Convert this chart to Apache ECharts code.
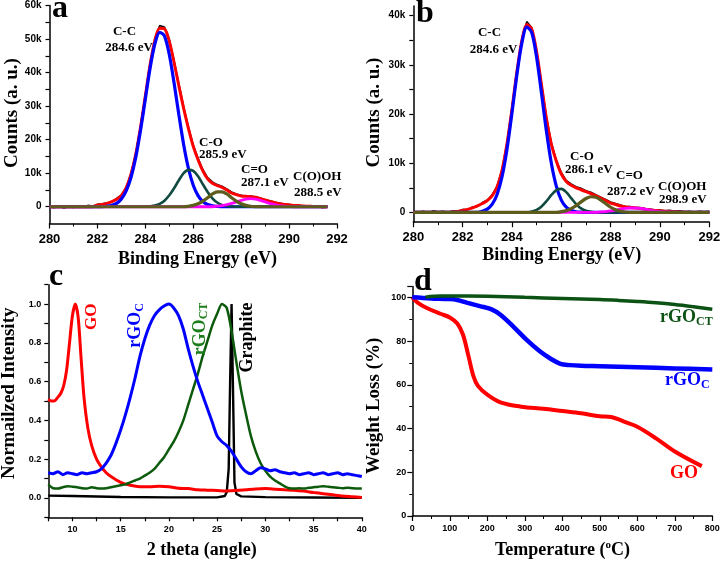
<!DOCTYPE html>
<html>
<head>
<meta charset="utf-8">
<script src="https://cdn.jsdelivr.net/npm/echarts@6/dist/echarts.min.js"></script>
<style>
html,body{margin:0;padding:0;background:#fff;}
#chart{width:721px;height:562px;}
</style>
</head>
<body>
<div id="chart"></div>
<script>
// ---------- Panel a: XPS (GO), counts in thousands ----------
const energyA = [280,280.2,280.4,280.6,280.8,281,281.2,281.4,281.6,281.8,282,282.2,282.4,282.6,282.8,283,283.2,283.4,283.6,283.8,284,284.2,284.4,284.6,284.8,285,285.2,285.4,285.6,285.8,286,286.2,286.4,286.6,286.8,287,287.2,287.4,287.6,287.8,288,288.2,288.4,288.6,288.8,289,289.2,289.4,289.6,289.8,290,290.2,290.4,290.6,290.8,291,291.2,291.4,291.6];
const rawA = [0.1,-0.3,0.2,-0.4,0.0,-0.2,0.3,-0.1,0.4,0.2,0.7,0.9,1.2,1.4,2.5,3.5,5.8,9.9,15.9,24.0,33.4,42.8,50.2,54.0,53.6,49.9,43.5,36.6,29.8,23.7,18.4,14.5,11.1,8.7,7.4,6.6,6.1,5.3,4.4,3.8,3.4,3.2,3.2,2.9,2.6,2.1,1.8,1.3,1.1,0.8,0.7,0.3,0.5,0.1,0.3,-0.1,0.2,-0.3,0.1];
const fitA = [0,0,0,0,0,0,0,0,0,0,0.5,0.7,1.0,1.5,2.2,3.3,5.6,9.6,15.6,23.7,33.0,42.4,49.6,53.2,53.0,49.3,43.0,36.0,29.3,23.3,18.0,14.0,10.7,8.3,7.0,6.3,5.8,5.0,4.1,3.6,3.2,3.1,3.0,2.8,2.4,2.0,1.6,1.2,0.9,0.7,0.5,0.4,0.3,0.2,0.15,0.1,0.05,0,0];
const ccA = [0,0,0,0,0,0,0,0,0,0,0,0,0.15,0.42,1.0,2.3,4.7,8.7,14.7,22.8,32.1,41.4,48.6,52.0,50.9,45.4,36.9,27.4,18.5,11.4,6.4,3.3,1.55,0.66,0.26,0.1,0,0,0,0,0,0,0,0,0,0,0,0,0,0,0,0,0,0,0,0,0,0,0];
const coA = [0,0,0,0,0,0,0,0,0,0,0,0,0,0,0,0,0,0,0,0,0,0.12,0.34,0.84,1.8,3.4,5.5,7.9,10.0,11.0,10.7,9.1,6.7,4.4,2.5,1.25,0.55,0.2,0.07,0,0,0,0,0,0,0,0,0,0,0,0,0,0,0,0,0,0,0,0];
const c_oA = [0,0,0,0,0,0,0,0,0,0,0,0,0,0,0,0,0,0,0,0,0,0,0,0,0,0,0,0,0,0.15,0.4,0.9,1.7,2.7,3.8,4.4,4.4,3.8,2.7,1.7,0.9,0.4,0.15,0.05,0,0,0,0,0,0,0,0,0,0,0,0,0,0,0];
const coohA = [0,0,0,0,0,0,0,0,0,0,0,0,0,0,0,0,0,0,0,0,0,0,0,0,0,0,0,0,0,0,0,0,0,0,0,0.16,0.33,0.6,1.0,1.46,1.92,2.27,2.4,2.27,1.92,1.46,1.0,0.6,0.33,0.16,0.07,0,0,0,0,0,0,0,0];

// ---------- Panel b: XPS (rGO), counts in thousands ----------
const energyB = [280,280.2,280.4,280.6,280.8,281,281.2,281.4,281.6,281.8,282,282.2,282.4,282.6,282.8,283,283.2,283.4,283.6,283.8,284,284.2,284.4,284.6,284.8,285,285.2,285.4,285.6,285.8,286,286.2,286.4,286.6,286.8,287,287.2,287.4,287.6,287.8,288,288.2,288.4,288.6,288.8,289,289.2,289.4,289.6,289.8,290,290.2,290.4,290.6,290.8,291,291.2,291.4,291.6,291.8,292];
const rawB = [0.1,0.0,0.2,-0.1,0.3,0.1,0.2,0.0,0.3,0.2,0.6,0.5,1.1,1.2,2.0,2.5,3.6,5.4,8.8,14.3,21.3,28.9,35.3,38.8,37.6,32.9,26.1,19.3,14.1,10.6,8.1,6.5,5.8,5.2,4.9,4.4,4.1,3.6,3.1,2.6,2.1,1.8,1.5,1.2,1.2,1.0,1.0,0.8,0.7,0.5,0.5,0.3,0.4,0.2,0.3,0.1,0.2,0.0,0.2,0.1,0.2];
const fitB = [0,0,0,0,0,0,0,0,0.1,0.2,0.4,0.6,0.9,1.3,1.8,2.4,3.4,5.2,8.6,14.0,21.0,28.6,34.9,38.2,37.3,32.6,25.8,19.0,13.8,10.4,7.8,6.3,5.5,5.0,4.6,4.2,3.8,3.4,2.9,2.4,1.9,1.6,1.3,1.1,1.0,0.9,0.8,0.65,0.5,0.4,0.3,0.25,0.2,0.15,0.1,0.05,0,0,0,0,0];
const ccB = [0,0,0,0,0,0,0,0,0,0,0,0,0,0,0.23,0.66,1.66,3.7,7.3,12.9,20.2,28.0,34.4,37.7,36.6,31.5,24.1,16.4,9.9,5.3,2.5,1.06,0.4,0.13,0.04,0,0,0,0,0,0,0,0,0,0,0,0,0,0,0,0,0,0,0,0,0,0,0,0,0,0];
const coB = [0,0,0,0,0,0,0,0,0,0,0,0,0,0,0,0,0,0,0,0,0,0,0,0,0.18,0.52,1.2,2.27,3.55,4.54,4.77,4.11,2.9,1.69,0.81,0.32,0.1,0.03,0,0,0,0,0,0,0,0,0,0,0,0,0,0,0,0,0,0,0,0,0,0,0];
const c_oB = [0,0,0,0,0,0,0,0,0,0,0,0,0,0,0,0,0,0,0,0,0,0,0,0,0,0,0,0,0,0,0.14,0.35,0.75,1.37,2.13,2.82,3.18,3.06,2.5,1.75,1.04,0.53,0.23,0.08,0,0,0,0,0,0,0,0,0,0,0,0,0,0,0,0,0];
const coohB = [0,0,0,0,0,0,0,0,0,0,0,0,0,0,0,0,0,0,0,0,0,0,0,0,0,0,0,0,0,0,0,0,0,0,0,0,0,0,0.09,0.17,0.29,0.46,0.64,0.79,0.89,0.89,0.79,0.64,0.46,0.29,0.17,0.09,0.04,0,0,0,0,0,0,0,0];

// ---------- Panel c: XRD ----------
const goAngle = [7.5,7.8,8.1,8.5,8.8,9.1,9.4,9.7,10.0,10.3,10.6,10.9,11.2,11.6,12.0,12.5,13.0,13.5,14.0,15,16,17,18,19,20,21,22,23,24,25,26,27,28,29,30,31,32,33,34,35,36,37,38,39,40];
const goIntensity = [0.51,0.50,0.50,0.52,0.54,0.58,0.66,0.80,0.94,1.0,0.93,0.72,0.52,0.36,0.27,0.20,0.16,0.13,0.11,0.08,0.065,0.058,0.058,0.06,0.058,0.05,0.048,0.042,0.04,0.038,0.036,0.038,0.042,0.046,0.048,0.045,0.042,0.04,0.035,0.028,0.022,0.016,0.01,0.006,0.002];
const xrdAngle = [7.5,8,8.5,9,9.5,10,10.5,11,11.5,12,12.5,13,13.5,14,14.5,15,15.5,16,16.5,17,17.5,18,18.5,19,19.5,20,20.5,21,21.5,22,22.5,23,23.5,24,24.5,25,25.5,26,26.5,27,27.5,28,28.5,29,29.5,30,30.5,31,31.5,32,32.5,33,33.5,34,34.5,35,35.5,36,36.5,37,37.5,38,38.5,39,39.5,40];
const rgocIntensity = [0.13,0.125,0.135,0.12,0.13,0.125,0.12,0.13,0.125,0.13,0.135,0.15,0.18,0.22,0.28,0.35,0.43,0.52,0.62,0.73,0.82,0.89,0.94,0.97,0.99,1.0,0.98,0.94,0.87,0.77,0.68,0.60,0.53,0.46,0.39,0.32,0.29,0.27,0.24,0.20,0.16,0.135,0.125,0.14,0.155,0.15,0.14,0.145,0.135,0.13,0.125,0.13,0.12,0.125,0.13,0.12,0.125,0.13,0.12,0.125,0.13,0.12,0.125,0.12,0.115,0.11];
const rgoctIntensity = [0.07,0.05,0.048,0.055,0.06,0.058,0.055,0.05,0.048,0.055,0.05,0.048,0.05,0.055,0.06,0.065,0.07,0.08,0.09,0.10,0.115,0.13,0.15,0.18,0.21,0.25,0.29,0.34,0.40,0.48,0.56,0.64,0.73,0.81,0.89,0.95,1.0,0.98,0.86,0.70,0.55,0.43,0.32,0.24,0.18,0.14,0.11,0.09,0.075,0.06,0.05,0.048,0.05,0.048,0.052,0.055,0.058,0.06,0.058,0.055,0.053,0.05,0.052,0.05,0.048,0.048];
const graphiteAngle = [7.5,10,15,20,25,25.8,26.0,26.2,26.35,26.5,26.65,26.8,27.0,27.5,30,35,40];
const graphiteIntensity = [0.012,0.01,0.005,0.003,0.003,0.01,0.03,0.15,0.6,1.0,0.55,0.08,0.02,0.008,0.004,0.002,0.0];

// ---------- Panel d: TGA ----------
const goTemp = [0,15,40,75,100,120,135,150,163,175,200,235,290,350,400,450,500,530,570,600,650,700,772];
const goWeight = [100,97.5,95,92.5,90.8,88,83,73,64,59.5,55.5,52,50,49,48,47,45.6,45.3,42.8,40.8,35.5,29.5,22.8];
const rgocTemp = [0,50,100,120,145,180,210,235,270,305,340,370,395,420,450,500,600,700,800];
const rgocWeight = [100,99.5,99.2,98.8,97.6,96,94.6,92,86.5,80.5,75.3,71.8,69.6,69.0,68.7,68.5,68.0,67.5,67.0];
const rgoctTemp = [35,75,150,200,300,400,500,550,600,650,700,750,800];
const rgoctWeight = [100.1,100.6,100.6,100.5,100.0,99.5,99.0,98.6,98.1,97.5,96.7,95.7,94.6];

// tick labels
const xpsALabels = [0,10,20,30,40,50,60];
const xpsATicks = [0,5,10,15,20,25,30,35,40,45,50,55,60];
const xpsBLabels = [0,10,20,30,40];
const xpsBTicks = [0,5,10,15,20,25,30,35,40];

const zip = (xs, ys) => xs.map((x, i) => [x, ys[i]]);

const RED = '#ff0000', BLUE = '#0000ff', TEAL = '#114a40', OLIVE = '#5e5c1c', MAG = '#ff00ff';
const GREEN_C = '#0c5a0c', GREEN_D = '#0b5214';

function lineSeries(idx, data, color, width, smooth, z) {
  return {type:'line', xAxisIndex: idx, yAxisIndex: idx, data, showSymbol:false, symbol:'none',
    smooth: smooth, lineStyle:{color, width}, z: z || 2, animation:false, silent:true};
}

const axisLineStyle = {show:true, onZero:false, lineStyle:{color:'#000', width:1.5}};
const tickFont = {color:'#000', fontFamily:'Liberation Sans', fontWeight:'bold'};

function xAxisCfg(idx, min, max, interval, fontSize, margin, extra) {
  return Object.assign({gridIndex: idx, type:'value', min, max, interval,
    axisLine: axisLineStyle,
    axisTick: {show:true, length:5, lineStyle:{color:'#000', width:1.2}},
    axisLabel: Object.assign({fontSize, margin, showMinLabel:true, showMaxLabel:true}, tickFont),
    splitLine:{show:false}}, extra || {});
}

const serif = '"Liberation Serif", "Times New Roman", serif';
function T(text, x, y, size, color, align, rot) {
  return {type:'text', x, y, rotation: rot || 0, silent:true, z: 100,
    style:{text, fill: color || '#000', font: 'bold ' + size + 'px ' + serif,
      textAlign: align || 'center', textVerticalAlign:'middle'}};
}
function R(parts, x, y, size, subSize, color, align, rot, sup) {
  return {type:'text', x, y, rotation: rot || 0, silent:true, z: 100,
    style:{text: parts, fill: color, textAlign: align || 'center', textVerticalAlign:'middle',
      font: 'bold ' + size + 'px ' + serif,
      rich:{
        m:{fontSize:size, fontWeight:'bold', fontFamily:serif, fill:color, lineHeight:size+2},
        s:{fontSize:subSize, fontWeight:'bold', fontFamily:serif, fill:color, verticalAlign: sup ? 'top' : 'bottom', lineHeight: subSize}
      }}};
}

const chart = echarts.init(document.getElementById('chart'), null, {renderer:'canvas'});
const option = {
  animation:false,
  backgroundColor:'#fff',
  grid:[
    {left:49.5, top:5.5, width:287.5, height:218, outerBoundsMode:'none', containLabel:false},
    {left:413.3, top:5.9, width:296, height:216.3, outerBoundsMode:'none', containLabel:false},
    {left:48.3, top:284.7, width:313.5, height:232.6, outerBoundsMode:'none', containLabel:false},
    {left:412.3, top:286.4, width:300, height:229.6, outerBoundsMode:'none', containLabel:false}
  ],
  xAxis:[
    xAxisCfg(0, 280, 292, 2, 13, 9, {minorTick:{show:true, splitNumber:2, length:3, lineStyle:{color:'#000', width:1}}}),
    xAxisCfg(1, 280, 292, 2, 13, 9, {minorTick:{show:true, splitNumber:2, length:3, lineStyle:{color:'#000', width:1}}}),
    xAxisCfg(2, 7.5, 40, 2.5, 9, 8, {axisLabel:Object.assign({fontSize:9, margin:8, showMinLabel:true, showMaxLabel:true,
      formatter: v => (Math.abs(v % 5) < 1e-6 ? String(v) : '')}, tickFont), axisTick:{show:true, length:4, lineStyle:{color:'#000', width:1.2}}}),
    xAxisCfg(3, 0, 800, 100, 9, 8, {minorTick:{show:true, splitNumber:2, length:3, lineStyle:{color:'#000', width:1}}})
  ],
  yAxis:[
    {gridIndex:0, type:'value', min:-5, max:60,
      axisLine: axisLineStyle,
      axisTick:{show:true, length:4, customValues: xpsATicks, lineStyle:{color:'#000', width:1.2}},
      axisLabel: Object.assign({fontSize:10, margin:8, customValues: xpsALabels, formatter: v => v === 0 ? '0' : v + 'k'}, tickFont),
      splitLine:{show:false}},
    {gridIndex:1, type:'value', min:-2, max:42,
      axisLine: axisLineStyle,
      axisTick:{show:true, length:4, customValues: xpsBTicks, lineStyle:{color:'#000', width:1.2}},
      axisLabel: Object.assign({fontSize:10, margin:8, customValues: xpsBLabels, formatter: v => v === 0 ? '0' : v + 'k'}, tickFont),
      splitLine:{show:false}},
    {gridIndex:2, type:'value', min:-0.1, max:1.1, interval:0.1,
      axisLine: axisLineStyle,
      axisTick:{show:true, length:4, lineStyle:{color:'#000', width:1.2}},
      axisLabel: Object.assign({fontSize:9, margin:7, showMinLabel:true, showMaxLabel:true, formatter: v => {
        const k = Math.round(v * 10); return (k >= 0 && k <= 10 && k % 2 === 0) ? (k / 10).toFixed(1) : ''; }}, tickFont),
      splitLine:{show:false}},
    {gridIndex:3, type:'value', min:0, max:105, interval:20,
      axisLine: axisLineStyle,
      axisTick:{show:true, length:5, lineStyle:{color:'#000', width:1.2}},
      minorTick:{show:true, splitNumber:2, length:3, lineStyle:{color:'#000', width:1}},
      axisLabel: Object.assign({fontSize:9, margin:6, showMaxLabel:false, formatter: v => (v <= 100 ? String(v) : '')}, tickFont),
      splitLine:{show:false}}
  ],
  series:[
    // panel a
    lineSeries(0, zip(energyA, rawA), '#111', 1.6, false, 2),
    lineSeries(0, zip(energyA, fitA), RED, 3, 0.3, 3),
    lineSeries(0, zip(energyA, ccA), BLUE, 3.2, 0.3, 4),
    lineSeries(0, zip(energyA, coA), TEAL, 2.6, 0.3, 5),
    lineSeries(0, zip(energyA, coohA), MAG, 2.8, 0.3, 6),
    lineSeries(0, zip(energyA, c_oA), OLIVE, 3.2, 0.3, 7),
    // panel b
    lineSeries(1, zip(energyB, rawB), '#111', 1.6, false, 2),
    lineSeries(1, zip(energyB, fitB), RED, 3, 0.3, 3),
    lineSeries(1, zip(energyB, ccB), BLUE, 3.2, 0.3, 4),
    lineSeries(1, zip(energyB, coB), TEAL, 2.6, 0.3, 5),
    lineSeries(1, zip(energyB, coohB), MAG, 2.8, 0.3, 6),
    lineSeries(1, zip(energyB, c_oB), OLIVE, 3.2, 0.3, 7),
    // panel c
    lineSeries(2, zip(graphiteAngle, graphiteIntensity), '#000', 2.4, false, 2),
    lineSeries(2, zip(goAngle, goIntensity), RED, 3, 0.25, 3),
    lineSeries(2, zip(xrdAngle, rgoctIntensity), GREEN_C, 2.5, 0.25, 4),
    lineSeries(2, zip(xrdAngle, rgocIntensity), BLUE, 3, 0.25, 5),
    // panel d
    lineSeries(3, zip(goTemp, goWeight), RED, 4, 0.35, 3),
    lineSeries(3, zip(rgocTemp, rgocWeight), BLUE, 4.5, 0.35, 4),
    lineSeries(3, zip(rgoctTemp, rgoctWeight), GREEN_D, 3.5, 0.35, 5)
  ],
  graphic:[
    // panel letters
    T('a', 52, 9, 32, '#000', 'left'),
    T('b', 416, 14, 32, '#000', 'left'),
    T('c', 49, 277, 32, '#000', 'left'),
    T('d', 414, 282, 32, '#000', 'left'),
    // axis titles
    T('Counts (a. u.)', 11.7, 113, 19, '#000', 'center', Math.PI / 2),
    T('Counts (a. u.)', 373.7, 112.5, 19, '#000', 'center', Math.PI / 2),
    T('Binding Energy (eV)', 197.5, 259, 18, '#000'),
    T('Binding Energy (eV)', 561.7, 255, 18, '#000'),
    T('Normailzed Intensity', 9.5, 393.3, 19, '#000', 'center', Math.PI / 2),
    T('2 theta (angle)', 201.7, 550, 18, '#000'),
    T('Weight Loss (%)', 374, 405.8, 19, '#000', 'center', Math.PI / 2),
    R('{m|Temperature (}{s|o}{m|C)}', 562.5, 550, 18, 11, '#000', 'center', 0, true),
    // panel a peak labels
    T('C-C', 124.5, 31.5, 13),
    T('284.6 eV', 129, 48, 13),
    T('C-O', 199, 142.5, 13, '#000', 'left'),
    T('285.9 eV', 199, 155, 13, '#000', 'left'),
    T('C=O', 241, 169.5, 13, '#000', 'left'),
    T('287.1 eV', 241, 183, 13, '#000', 'left'),
    T('C(O)OH', 293, 177, 13, '#000', 'left'),
    T('288.5 eV', 294, 192.5, 13, '#000', 'left'),
    // panel b peak labels
    T('C-C', 489.5, 33, 13),
    T('284.6 eV', 493.5, 49.6, 13),
    T('C-O', 582, 156.7, 13),
    T('286.1 eV', 565, 170, 13, '#000', 'left'),
    T('C=O', 616, 175.3, 13, '#000', 'left'),
    T('287.2 eV', 607, 191.7, 13, '#000', 'left'),
    T('C(O)OH', 658, 186.7, 13, '#000', 'left'),
    T('298.9 eV', 659, 200, 13, '#000', 'left'),
    // panel c labels (rotated)
    T('GO', 91.5, 316.7, 17, RED, 'center', Math.PI / 2),
    R('{m|rGO}{s|C}', 135.7, 325.5, 18, 12, BLUE, 'center', Math.PI / 2),
    R('{m|rGO}{s|CT}', 200, 329, 18, 12, '#1a7d1a', 'center', Math.PI / 2),
    T('Graphite', 247, 337.6, 18, '#000', 'center', Math.PI / 2),
    // panel d labels
    R('{m|rGO}{s|CT}', 660, 317.5, 18, 12, GREEN_D, 'left'),
    R('{m|rGO}{s|C}', 665, 380.5, 18, 12, BLUE, 'left'),
    T('GO', 670, 473.5, 18, RED, 'left')
  ]
};
chart.setOption(option);
</script>
</body>
</html>
